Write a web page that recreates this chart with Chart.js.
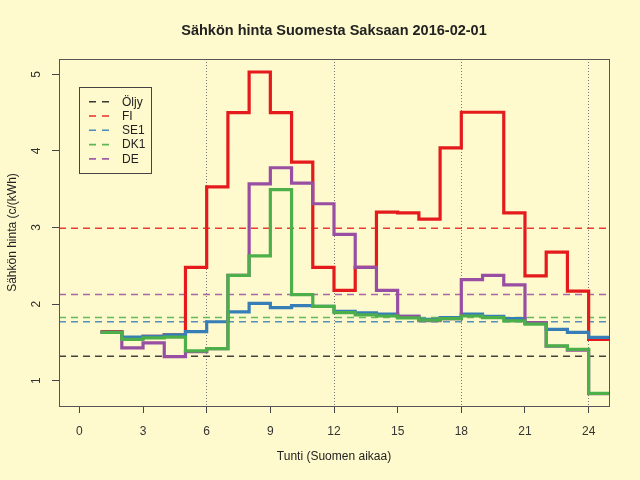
<!DOCTYPE html>
<html>
<head>
<meta charset="utf-8">
<script src="https://cdn.jsdelivr.net/npm/chart.js@4"></script>
<style>
html, body { margin: 0; padding: 0; background: #fffacd; }
#wrap { width: 640px; height: 480px; }
</style>
</head>
<body>
<div id="wrap"><canvas id="priceChart" width="640" height="480"></canvas></div>
<script>
// hourly prices, c/kWh (hour 1..24)
const hours = [1, 2, 3, 4, 5, 6, 7, 8, 9, 10, 11, 12, 13, 14, 15, 16, 17, 18, 19, 20, 21, 22, 23, 24];
const fiPrice  = [1.64, 1.56, 1.58, 1.60, 2.48, 3.53, 4.50, 5.03, 4.50, 3.855, 2.48, 2.18, 2.48, 3.20, 3.19, 3.11, 4.04, 4.505, 4.505, 3.19, 2.37, 2.68, 2.17, 1.54];
const se1Price = [1.63, 1.57, 1.58, 1.60, 1.64, 1.77, 1.90, 2.01, 1.955, 1.98, 1.97, 1.905, 1.885, 1.87, 1.84, 1.80, 1.825, 1.87, 1.84, 1.81, 1.75, 1.67, 1.63, 1.565];
const dk1Price = [1.63, 1.54, 1.56, 1.57, 1.39, 1.42, 2.375, 2.63, 3.495, 2.125, 1.97, 1.89, 1.86, 1.845, 1.82, 1.79, 1.81, 1.845, 1.825, 1.78, 1.74, 1.455, 1.41, 0.835];
const dePrice  = [1.63, 1.43, 1.495, 1.315, 1.38, 1.42, 2.375, 3.57, 3.78, 3.58, 3.31, 2.91, 2.48, 2.18, 1.84, 1.785, 1.81, 2.32, 2.375, 2.25, 1.76, 1.45, 1.40, 0.83];

// daily averages (dashed lines) + legend
const legendNames  = ["Öljy", "FI", "SE1", "DK1", "DE"];
const avgValues    = [1.32, 2.99, 1.77, 1.825, 2.125];
const legendColors = ["#222222", "#E41A1C", "#377EB8", "#4DAF4A", "#984EA3"];

const xTicks = [0, 3, 6, 9, 12, 15, 18, 21, 24];
const yTicks = [1, 2, 3, 4, 5];
const xMin = -0.96, xMax = 24.96;
const yMin = 0.67, yMax = 5.2;

const chartTitle = "Sähkön hinta Suomesta Saksaan 2016-02-01";
const FONT = "'Liberation Sans', Arial, sans-serif";

// R type="s": value of hour h runs from h to h+1
function stepPoints(values) {
    let pts = hours.map((h, i) => ({ x: h, y: values[i] }));
    pts.push({ x: hours[hours.length - 1] + 1, y: values[values.length - 1] });
    return pts;
}

function hexAlpha(hex, a) {
    let r = parseInt(hex.slice(1, 3), 16), g = parseInt(hex.slice(3, 5), 16), b = parseInt(hex.slice(5, 7), 16);
    return "rgba(" + r + "," + g + "," + b + "," + a + ")";
}

let datasets = [];

// dashed average lines
legendNames.forEach((name, i) => {
    datasets.push({
        label: name + " ka",
        data: [{ x: xMin, y: avgValues[i] }, { x: xMax, y: avgValues[i] }],
        borderColor: hexAlpha(legendColors[i], 0.85),
        borderWidth: 1.6,
        borderDash: [7, 5],
        pointRadius: 0,
        order: 10
    });
});

const stepSeries = [
    { name: "FI", values: fiPrice, color: legendColors[1], order: 4 },
    { name: "SE1", values: se1Price, color: legendColors[2], order: 3 },
    { name: "DE", values: dePrice, color: legendColors[4], order: 2 },
    { name: "DK1", values: dk1Price, color: legendColors[3], order: 1 }
];

stepSeries.forEach(s => {
    datasets.push({
        label: s.name,
        data: stepPoints(s.values),
        stepped: "before",
        borderColor: s.color,
        borderWidth: 3.2,
        borderJoinStyle: "miter",
        borderCapStyle: "butt",
        pointRadius: 0,
        fill: false,
        order: s.order
    });
});

const background = {
    id: "background",
    beforeDraw(chart) {
        const c = chart.ctx;
        c.save();
        c.fillStyle = "#fffacd";
        c.fillRect(0, 0, chart.width, chart.height);
        c.restore();
    }
};

// box + title centred over the plot region (like R's main=)
const plotBox = {
    id: "plotBox",
    afterDraw(chart) {
        const a = chart.chartArea, c = chart.ctx;
        c.save();
        c.strokeStyle = "#555";
        c.lineWidth = 1;
        c.strokeRect(Math.round(a.left) + 0.5, Math.round(a.top) + 0.5, Math.round(a.right - a.left), Math.round(a.bottom - a.top));
        c.font = "bold 14.5px " + FONT;
        c.fillStyle = "#222";
        c.textAlign = "center";
        c.textBaseline = "middle";
        c.fillText(chartTitle, (a.left + a.right) / 2, 31);
        c.restore();
    }
};

// y tick labels rotated like R's default (las = 0)
const yLabels = {
    id: "yLabels",
    afterDraw(chart) {
        const y = chart.scales.y, c = chart.ctx;
        c.save();
        c.font = "12px " + FONT;
        c.fillStyle = "#333";
        c.textAlign = "center";
        c.textBaseline = "middle";
        y.ticks.forEach(t => {
            c.save();
            c.translate(37, y.getPixelForValue(t.value));
            c.rotate(-Math.PI / 2);
            c.fillText(String(t.value), 0, 0);
            c.restore();
        });
        c.restore();
    }
};

const boxLegend = {
    id: "boxLegend",
    afterDraw(chart) {
        const c = chart.ctx;
        const left = 79.5, top = 87.5, w = 72, h = 86;
        c.save();
        c.strokeStyle = "#444";
        c.lineWidth = 1;
        c.strokeRect(left, top, w, h);
        c.font = "12px " + FONT;
        c.textBaseline = "middle";
        c.textAlign = "left";
        legendNames.forEach((name, i) => {
            const yy = 101.7 + i * 14.3;
            c.strokeStyle = hexAlpha(legendColors[i], 0.9);
            c.lineWidth = 1.6;
            c.setLineDash([7, 6]);
            c.beginPath();
            c.moveTo(89, yy);
            c.lineTo(110, yy);
            c.stroke();
            c.setLineDash([]);
            c.fillStyle = "#222";
            c.fillText(name, 122, yy + 0.5);
        });
        c.restore();
    }
};

let ctx = document.getElementById("priceChart").getContext("2d");

new Chart(ctx, {
    type: "line",
    data: { datasets: datasets },
    options: {
        responsive: false,
        animation: false,
        events: [],
        layout: { padding: { top: 59, right: 31, bottom: 0, left: 0 } },
        plugins: {
            legend: { display: false },
            tooltip: { enabled: false },
            title: { display: false }
        },
        scales: {
            x: {
                type: "linear",
                min: xMin,
                max: xMax,
                afterBuildTicks: s => { s.ticks = xTicks.map(v => ({ value: v })); },
                afterFit: s => { s.height = 74; },
                ticks: {
                    autoSkip: false,
                    maxRotation: 0,
                    padding: 11,
                    color: "#333",
                    font: { family: FONT, size: 12 }
                },
                grid: {
                    color: c => (c.tick && c.tick.value > 0 && c.tick.value % 6 === 0) ? "#777" : "rgba(0,0,0,0)",
                    lineWidth: 1,
                    tickColor: "#444",
                    tickLength: 7,
                    tickBorderDash: []
                },
                border: { display: true, color: "#444", dash: [1, 2] },
                title: {
                    display: true,
                    text: "Tunti (Suomen aikaa)",
                    color: "#222",
                    font: { family: FONT, size: 12 },
                    padding: { top: 0, bottom: 16 }
                }
            },
            y: {
                type: "linear",
                min: yMin,
                max: yMax,
                afterBuildTicks: s => { s.ticks = yTicks.map(v => ({ value: v })); },
                afterFit: s => { s.width = 59; },
                ticks: { display: false },
                grid: { drawOnChartArea: false, tickColor: "#444", tickLength: 7 },
                border: { display: true, color: "#444" },
                title: {
                    display: true,
                    text: "Sähkön hinta (c/(kWh)",
                    color: "#222",
                    font: { family: FONT, size: 12 },
                    padding: { top: 5, bottom: 0 }
                }
            }
        }
    },
    plugins: [background, plotBox, yLabels, boxLegend]
});
</script>
</body>
</html>
